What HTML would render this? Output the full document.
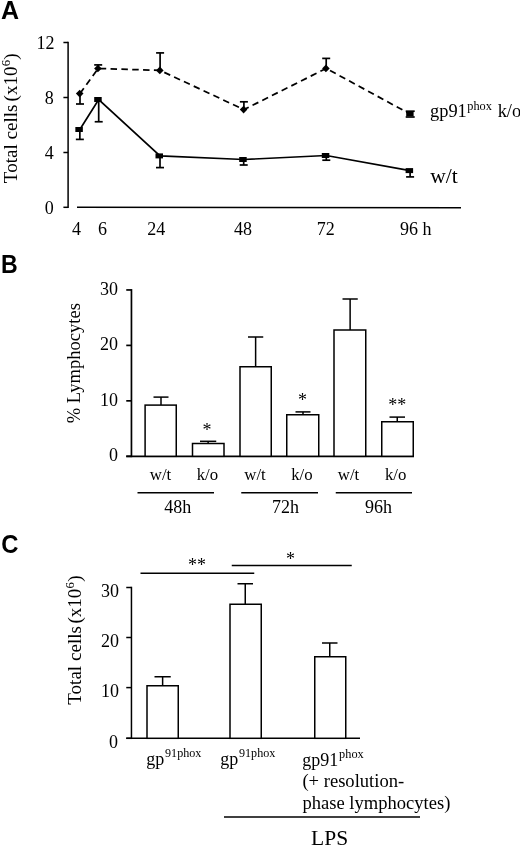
<!DOCTYPE html>
<html><head><meta charset="utf-8"><title>Figure</title>
<style>
html,body{margin:0;padding:0;background:#fff;}
svg{display:block;will-change:transform;}
text{font-family:"Liberation Serif",serif;font-size:18px;fill:#000;stroke:none;}
.pl{font-family:"Liberation Sans",sans-serif;font-weight:bold;font-size:25px;}
</style></head><body>
<svg width="520" height="846" viewBox="0 0 520 846" stroke="#000" stroke-linecap="butt">
<rect x="0" y="0" width="520" height="846" fill="#fff" stroke="none"/>
<g id="panelA">
<text x="0.9" y="18.7" text-anchor="start" class="pl">A</text>
<line x1="68.1" y1="41.75" x2="68.1" y2="208.1" stroke-width="1.5" />
<line x1="63.4" y1="42.5" x2="68.1" y2="42.5" stroke-width="1.5" />
<line x1="63.4" y1="97.5" x2="68.1" y2="97.5" stroke-width="1.5" />
<line x1="63.4" y1="152.5" x2="68.1" y2="152.5" stroke-width="1.5" />
<line x1="63.4" y1="207.3" x2="68.1" y2="207.3" stroke-width="1.5" />
<line x1="77" y1="207.25" x2="461" y2="207.75" stroke-width="1.5" />
<text x="54.4" y="48.5" text-anchor="end" >12</text>
<text x="53.8" y="103.5" text-anchor="end" >8</text>
<text x="53.8" y="158.5" text-anchor="end" >4</text>
<text x="53.8" y="213.5" text-anchor="end" >0</text>
<text x="76.4" y="234.6" text-anchor="middle" >4</text>
<text x="102.5" y="234.6" text-anchor="middle" >6</text>
<text x="156.2" y="234.6" text-anchor="middle" >24</text>
<text x="243" y="234.6" text-anchor="middle" >48</text>
<text x="325.8" y="234.6" text-anchor="middle" >72</text>
<text x="400" y="234.6" text-anchor="start" >96 h</text>
<text transform="translate(17.3,183.2) rotate(-90)" style="font-size:19.1px">Total cells<tspan dx="-1.7"> (x10</tspan><tspan font-size="12.7" dy="-6.9" dx="0.2">6</tspan><tspan dy="6.9" dx="0.2">)</tspan></text>
<polyline fill="none" stroke-width="1.7" points="79.85,129.5 98.7,99.5 160,155.9 243.7,159.5 326.3,155.5 410.1,170.6"/>
<polyline fill="none" stroke-width="1.75" stroke-dasharray="6.5 4.34" points="80,93.6 98.2,68.5 160.1,70.4 243.9,109.6 326.2,68.4 410.2,114.1"/>
<line x1="79.85" y1="129.5" x2="79.85" y2="139.4" stroke-width="1.7" />
<line x1="75.85" y1="139.4" x2="83.85" y2="139.4" stroke-width="1.7" />
<rect x="75.35" y="127.0" width="7.5" height="5" fill="#000" stroke="none"/>
<line x1="98.7" y1="99.5" x2="98.7" y2="121.75" stroke-width="1.7" />
<line x1="94.7" y1="121.75" x2="102.7" y2="121.75" stroke-width="1.7" />
<rect x="94.2" y="97.0" width="7.5" height="5" fill="#000" stroke="none"/>
<line x1="160" y1="155.9" x2="160" y2="167.6" stroke-width="1.7" />
<line x1="156" y1="167.6" x2="164" y2="167.6" stroke-width="1.7" />
<rect x="155.5" y="153.4" width="7.5" height="5" fill="#000" stroke="none"/>
<line x1="243.7" y1="159.5" x2="243.7" y2="165" stroke-width="1.7" />
<line x1="239.7" y1="165" x2="247.7" y2="165" stroke-width="1.7" />
<rect x="239.2" y="157.0" width="7.5" height="5" fill="#000" stroke="none"/>
<line x1="326.3" y1="155.5" x2="326.3" y2="160.2" stroke-width="1.7" />
<line x1="322.3" y1="160.2" x2="330.3" y2="160.2" stroke-width="1.7" />
<rect x="321.8" y="153.0" width="7.5" height="5" fill="#000" stroke="none"/>
<line x1="410.1" y1="170.6" x2="410.1" y2="176.9" stroke-width="1.7" />
<line x1="406.1" y1="176.9" x2="414.1" y2="176.9" stroke-width="1.7" />
<rect x="405.6" y="168.1" width="7.5" height="5" fill="#000" stroke="none"/>
<line x1="80" y1="93.6" x2="80" y2="104" stroke-width="1.7" />
<line x1="76" y1="104" x2="84" y2="104" stroke-width="1.7" />
<polygon points="75.9,93.6 79.7,89.8 83.5,93.6 79.7,97.39999999999999" fill="#000" stroke="none"/>
<line x1="98.2" y1="68.5" x2="98.2" y2="64.9" stroke-width="1.7" />
<line x1="94.2" y1="64.9" x2="102.2" y2="64.9" stroke-width="1.7" />
<polygon points="94.10000000000001,68.5 97.9,64.7 101.7,68.5 97.9,72.3" fill="#000" stroke="none"/>
<line x1="160.1" y1="70.4" x2="160.1" y2="52.9" stroke-width="1.7" />
<line x1="156.1" y1="52.9" x2="164.1" y2="52.9" stroke-width="1.7" />
<polygon points="155.99999999999997,70.4 159.79999999999998,66.60000000000001 163.6,70.4 159.79999999999998,74.2" fill="#000" stroke="none"/>
<line x1="243.9" y1="109.6" x2="243.9" y2="101.8" stroke-width="1.7" />
<line x1="239.9" y1="101.8" x2="247.9" y2="101.8" stroke-width="1.7" />
<polygon points="239.79999999999998,109.6 243.6,105.8 247.4,109.6 243.6,113.39999999999999" fill="#000" stroke="none"/>
<line x1="326.2" y1="68.4" x2="326.2" y2="58.4" stroke-width="1.7" />
<line x1="322.2" y1="58.4" x2="330.2" y2="58.4" stroke-width="1.7" />
<polygon points="322.09999999999997,68.4 325.9,64.60000000000001 329.7,68.4 325.9,72.2" fill="#000" stroke="none"/>
<line x1="405.7" y1="111.19999999999999" x2="414.7" y2="111.19999999999999" stroke-width="1.7" />
<line x1="405.7" y1="117.0" x2="414.7" y2="117.0" stroke-width="1.7" />
<rect x="406.2" y="111.89999999999999" width="7.4" height="4.4" fill="#000" stroke="none"/>
<text x="430" y="116.5" style="font-size:18.4px">gp91<tspan font-size="12.3" dy="-7" dx="0.5">phox</tspan><tspan dy="7" dx="1.2"> k/o</tspan></text>
<text x="430.3" y="182.7" text-anchor="start" style="font-size:21.5px" >w/t</text>
</g>
<g id="panelB">
<text x="0.9" y="273" text-anchor="start" class="pl" textLength="16.7" lengthAdjust="spacingAndGlyphs">B</text>
<line x1="131.45" y1="289.1" x2="131.45" y2="457.15000000000003" stroke-width="1.7" />
<line x1="126.25" y1="289.95" x2="131.45" y2="289.95" stroke-width="1.7" />
<line x1="126.25" y1="345.4" x2="131.45" y2="345.4" stroke-width="1.7" />
<line x1="126.25" y1="400.85" x2="131.45" y2="400.85" stroke-width="1.7" />
<line x1="126.25" y1="456.3" x2="131.45" y2="456.3" stroke-width="1.7" />
<line x1="126.25" y1="456.3" x2="414" y2="456.3" stroke-width="1.7" />
<text x="118.1" y="294.75" text-anchor="end" >30</text>
<text x="118.1" y="350.2" text-anchor="end" >20</text>
<text x="118.1" y="405.65000000000003" text-anchor="end" >10</text>
<text x="118.1" y="461.1" text-anchor="end" >0</text>
<text transform="translate(80.4,423.3) rotate(-90)" style="font-size:18.5px" textLength="120.3" lengthAdjust="spacingAndGlyphs">% Lymphocytes</text>
<rect x="145.1" y="405.1" width="31.150000000000006" height="51.19999999999999" fill="#fff" stroke-width="1.5"/>
<line x1="161.0" y1="405.1" x2="161.0" y2="397.1" stroke-width="1.5" />
<line x1="153.5" y1="397.1" x2="168.5" y2="397.1" stroke-width="1.5" />
<rect x="192.5" y="443.5" width="31.5" height="12.800000000000011" fill="#fff" stroke-width="1.5"/>
<line x1="208.125" y1="443.5" x2="208.125" y2="441.3" stroke-width="1.5" />
<line x1="200" y1="441.3" x2="216.25" y2="441.3" stroke-width="1.5" />
<rect x="240" y="366.75" width="31.25" height="89.55000000000001" fill="#fff" stroke-width="1.5"/>
<line x1="255.625" y1="366.75" x2="255.625" y2="337" stroke-width="1.5" />
<line x1="248" y1="337" x2="263.25" y2="337" stroke-width="1.5" />
<rect x="286.75" y="414.75" width="32.0" height="41.55000000000001" fill="#fff" stroke-width="1.5"/>
<line x1="303.0" y1="414.75" x2="303.0" y2="411.9" stroke-width="1.5" />
<line x1="295.5" y1="411.9" x2="310.5" y2="411.9" stroke-width="1.5" />
<rect x="334" y="330" width="31.75" height="126.30000000000001" fill="#fff" stroke-width="1.5"/>
<line x1="350.125" y1="330" x2="350.125" y2="299" stroke-width="1.5" />
<line x1="342.5" y1="299" x2="357.75" y2="299" stroke-width="1.5" />
<rect x="381.75" y="421.75" width="31.5" height="34.55000000000001" fill="#fff" stroke-width="1.5"/>
<line x1="397.25" y1="421.75" x2="397.25" y2="417.1" stroke-width="1.5" />
<line x1="389.5" y1="417.1" x2="405" y2="417.1" stroke-width="1.5" />
<text x="149.8" y="480.2" text-anchor="start" style="font-size:16.8px" >w/t</text>
<text x="196.65" y="480.2" text-anchor="start" style="font-size:16.8px" >k/o</text>
<text x="244.3" y="480.2" text-anchor="start" style="font-size:16.8px" >w/t</text>
<text x="291.15" y="480.2" text-anchor="start" style="font-size:16.8px" >k/o</text>
<text x="337.8" y="480.2" text-anchor="start" style="font-size:16.8px" >w/t</text>
<text x="384.9" y="480.2" text-anchor="start" style="font-size:16.8px" >k/o</text>
<line x1="137.5" y1="492.8" x2="214" y2="492.8" stroke-width="1.5" />
<line x1="241.25" y1="492.8" x2="318" y2="492.8" stroke-width="1.5" />
<line x1="335.75" y1="492.8" x2="412" y2="492.8" stroke-width="1.5" />
<text x="164.3" y="513.4" text-anchor="start" >48h</text>
<text x="272" y="513.4" text-anchor="start" >72h</text>
<text x="365" y="513.4" text-anchor="start" >96h</text>
<text x="207" y="436.2" text-anchor="middle" >*</text>
<text x="302.5" y="405.6" text-anchor="middle" >*</text>
<text x="397.25" y="410.5" text-anchor="middle" >**</text>
</g>
<g id="panelC">
<text x="1.2" y="553" text-anchor="start" class="pl" textLength="17.2" lengthAdjust="spacingAndGlyphs">C</text>
<line x1="131.45" y1="586.75" x2="131.45" y2="739.05" stroke-width="1.5" />
<line x1="126.25" y1="587.5" x2="131.45" y2="587.5" stroke-width="1.5" />
<line x1="126.25" y1="637.5" x2="131.45" y2="637.5" stroke-width="1.5" />
<line x1="126.25" y1="687.6" x2="131.45" y2="687.6" stroke-width="1.5" />
<line x1="126.25" y1="738.3" x2="131.45" y2="738.3" stroke-width="1.5" />
<line x1="126.25" y1="738.3" x2="360" y2="738.3" stroke-width="1.5" />
<text x="118.9" y="597.0" text-anchor="end" >30</text>
<text x="118.9" y="647.0" text-anchor="end" >20</text>
<text x="118.9" y="697.0" text-anchor="end" >10</text>
<text x="118.1" y="747.5" text-anchor="end" >0</text>
<text transform="translate(80.6,704.8) rotate(-90)" style="font-size:19.1px">Total cells<tspan dx="-2.3"> (x10</tspan><tspan font-size="12.7" dy="-6.9" dx="0.2">6</tspan><tspan dy="6.9" dx="0.2">)</tspan></text>
<rect x="147" y="685.75" width="31.25" height="52.549999999999955" fill="#fff" stroke-width="1.5"/>
<line x1="162.625" y1="685.75" x2="162.625" y2="676.75" stroke-width="1.5" />
<line x1="154.5" y1="676.75" x2="170.75" y2="676.75" stroke-width="1.5" />
<rect x="230" y="604.25" width="31.25" height="134.04999999999995" fill="#fff" stroke-width="1.5"/>
<line x1="245.25" y1="604.25" x2="245.25" y2="583.75" stroke-width="1.5" />
<line x1="237.5" y1="583.75" x2="253" y2="583.75" stroke-width="1.5" />
<rect x="314.75" y="656.75" width="31.0" height="81.54999999999995" fill="#fff" stroke-width="1.5"/>
<line x1="329.75" y1="656.75" x2="329.75" y2="643" stroke-width="1.5" />
<line x1="322" y1="643" x2="337.5" y2="643" stroke-width="1.5" />
<line x1="140.5" y1="573.25" x2="254.25" y2="573.25" stroke-width="1.5" />
<line x1="231.75" y1="565.5" x2="351.75" y2="565.5" stroke-width="1.5" />
<text x="197" y="570.7" text-anchor="middle" >**</text>
<text x="290.5" y="564.7" text-anchor="middle" >*</text>
<text x="146.25" y="765">gp<tspan font-size="12.1" dy="-8" dx="0.8">91phox</tspan></text>
<text x="220.2" y="765">gp<tspan font-size="12.1" dy="-8" dx="0.8">91phox</tspan></text>
<text x="302.3" y="766">gp91<tspan font-size="12.3" dy="-8" dx="0.8">phox</tspan></text>
<text x="302.4" y="786.6" text-anchor="start" textLength="101.8" lengthAdjust="spacingAndGlyphs">(+ resolution-</text>
<text x="302.4" y="808.8" text-anchor="start" textLength="148" lengthAdjust="spacingAndGlyphs">phase lymphocytes)</text>
<line x1="224" y1="817" x2="420" y2="817" stroke-width="1.5" />
<text x="311.1" y="845.2" text-anchor="start" style="font-size:21.5px" >LPS</text>
</g>
</svg>
</body></html>
